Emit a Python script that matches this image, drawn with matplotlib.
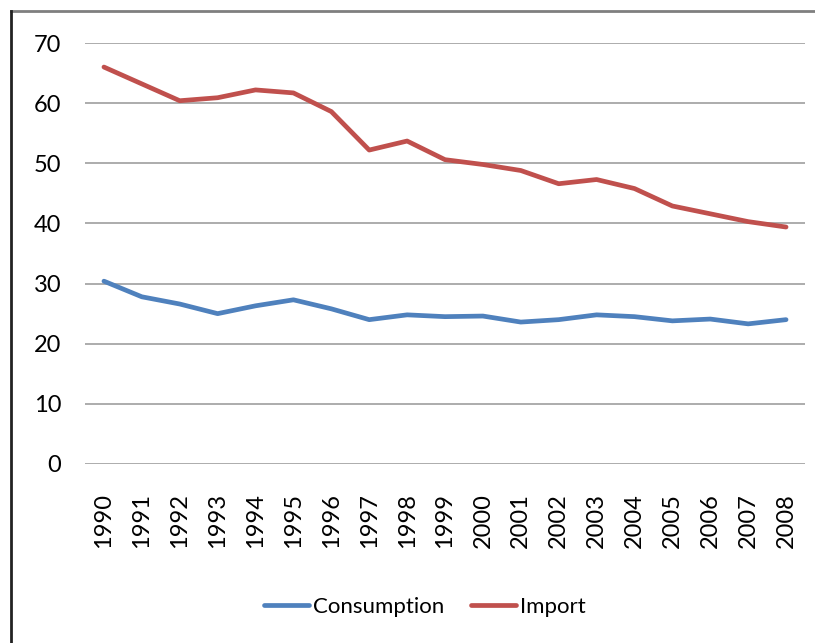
import matplotlib
matplotlib.use("Agg")
import matplotlib.pyplot as plt
from matplotlib.lines import Line2D

years = [str(y) for y in range(1990, 2009)]
consumption = [30.4, 27.8, 26.6, 25.0, 26.3, 27.3, 25.8, 24.0, 24.8, 24.5,
               24.6, 23.6, 24.0, 24.8, 24.5, 23.8, 24.1, 23.3, 24.0]
imports = [66.0, 63.2, 60.4, 60.9, 62.2, 61.7, 58.6, 52.2, 53.7, 50.6,
           49.8, 48.8, 46.6, 47.3, 45.8, 42.9, 41.6, 40.3, 39.4]
yticks = [0, 10, 20, 30, 40, 50, 60, 70]

plt.rcParams["font.family"] = ["Lato", "DejaVu Sans"]

fig = plt.figure(figsize=(8.15, 6.43), dpi=100)
ax = fig.add_axes([85 / 815, 1 - 464 / 643, 720 / 815, 421 / 643])

x = list(range(len(years)))
ax.plot(x, consumption, color="#4F81BD", lw=3.4, label="Consumption",
        solid_capstyle="round", solid_joinstyle="round")
ax.plot(x, imports, color="#C0504D", lw=3.4, label="Import",
        solid_capstyle="round", solid_joinstyle="round")

ax.set_xlim(-0.5, len(years) - 0.5)
ax.set_ylim(0, 70)
ax.set_yticks(yticks)
ax.set_xticks(x)
ax.set_xticklabels(years, rotation=90, fontsize=17)
ax.tick_params(axis="y", labelsize=17, length=0, pad=17)
ax.tick_params(axis="x", length=0, pad=21)
ax.yaxis.grid(True, color="#A6A6A6", lw=1.3)
ax.set_axisbelow(True)
for s in ax.spines.values():
    s.set_visible(False)

leg = fig.legend(loc="center", bbox_to_anchor=(425 / 815, 1 - 607 / 643),
                 ncol=2, frameon=False, fontsize=16, handlelength=2.0,
                 handletextpad=0.2, columnspacing=1.2)

# frame edges of the original screenshot
fig.add_artist(Line2D([11 / 815, 1], [1 - 11 / 643, 1 - 11 / 643],
                      color="#7F7F7F", lw=2, transform=fig.transFigure))
fig.add_artist(Line2D([11 / 815, 11 / 815], [0, 1 - 11 / 643],
                      color="#222222", lw=2, transform=fig.transFigure))

fig.savefig("out.png", dpi=100)
